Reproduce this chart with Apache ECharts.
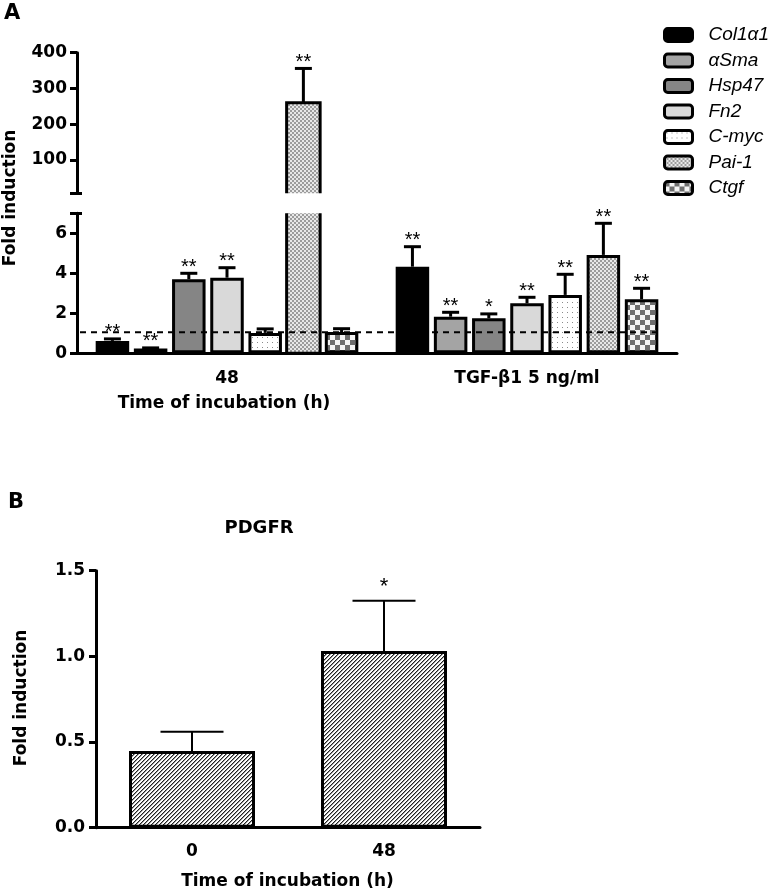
<!DOCTYPE html>
<html>
<head>
<meta charset="utf-8">
<script src="https://cdn.jsdelivr.net/npm/echarts@6/dist/echarts.min.js"></script>
<style>
html,body{margin:0;padding:0;background:#fff;}
#chart{width:776px;height:894px;}
</style>
</head>
<body>
<div id="chart"></div>
<script>
// ---------- DATA ----------
const categoriesA = ['48', 'TGF-\u03b21 5 ng/ml'];
const genes = ['Col1\u03b11', '\u03b1Sma', 'Hsp47', 'Fn2', 'C-myc', 'Pai-1', 'Ctgf'];
const meanAt48 = [0.62, 0.24, 3.70, 3.78, 1.02, 260, 1.06];
const errAt48  = [0.10, 0.03, 0.30, 0.50, 0.20, 96, 0.17];
const starsAt48 = ['**', '**', '**', '**', '', '**', ''];
const meanTgf = [4.33, 1.83, 1.75, 2.50, 2.92, 4.92, 2.70];
const errTgf  = [1.00, 0.22, 0.22, 0.30, 1.03, 1.58, 0.55];
const starsTgf = ['**', '**', '*', '**', '**', '**', '**'];
const refLine = 1.05;
const breakLow = 7;
const yTicksTopA = [100, 200, 300, 400];
const yTicksBottomA = [0, 2, 4, 6];

const categoriesB = ['0', '48'];
const meanB = [0.448, 1.031];
const errB = [0.112, 0.294];
const starsB = ['', '*'];

// ---------- STYLE ----------
const FONT = 'DejaVu Sans';
const BARW = 33.5, GAP = 0.14, SLOT = BARW * (1 + GAP);

function pat(w, h, draw) {
  const c = document.createElement('canvas');
  c.width = w; c.height = h;
  const g = c.getContext('2d');
  draw(g);
  return { image: c, repeat: 'repeat' };
}
const dots = pat(5, 5, g => { g.fillStyle = '#fff'; g.fillRect(0,0,5,5); g.fillStyle = '#8a8a8a'; g.fillRect(2,2,1,1); });
const fineChk = pat(4, 4, g => { g.fillStyle = '#e8e8e8'; g.fillRect(0,0,4,4); g.fillStyle = '#9c9c9c'; g.fillRect(0,0,2,2); g.fillRect(2,2,2,2); });
const bigChk = pat(10, 10, g => { g.fillStyle = '#f4f4f4'; g.fillRect(0,0,10,10); g.fillStyle = '#6e6e6e'; g.fillRect(0,0,5,5); g.fillRect(5,5,5,5); });
const hatch = pat(4, 4, g => {
  g.fillStyle = '#fff'; g.fillRect(0,0,4,4);
  for (let i = 0; i < 4; i++) { g.fillStyle = '#222'; g.fillRect(i, 3 - i, 1, 1); g.fillStyle = '#9a9a9a'; g.fillRect((i + 1) % 4, 3 - i, 1, 1); }
});
const fills = ['#000000', '#a4a4a4', '#858585', '#d9d9d9', dots, fineChk, bigChk];

const axisLine = { show: true, lineStyle: { color: '#000', width: 3 } };
const tickStyle = { color: '#000', width: 3 };
const labelStyle = { color: '#000', fontFamily: FONT, fontWeight: 'bold', fontSize: 17 };

// ---------- SERIES ----------
const series = [];
genes.forEach((g, i) => {
  const vals = [meanAt48[i], meanTgf[i]];
  series.push({
    type: 'bar', name: g, xAxisIndex: 1, yAxisIndex: 1,
    data: vals.map(v => v > breakLow ? { value: v, itemStyle: { borderWidth: 0 } } : v),
    barWidth: BARW, barGap: (GAP * 100) + '%',
    itemStyle: { color: fills[i], borderColor: '#000', borderWidth: 3 },
    emphasis: { disabled: true }, clip: true
  });
  series.push({
    type: 'bar', name: g, xAxisIndex: 0, yAxisIndex: 0,
    data: vals.map(v => v > breakLow ? { value: v, itemStyle: { borderWidth: 0 } } : '-'),
    barWidth: BARW, barGap: (GAP * 100) + '%',
    itemStyle: { color: fills[i], borderColor: '#000', borderWidth: 3 },
    emphasis: { disabled: true }, clip: true
  });
});

function allItems() {
  const items = [];
  [[meanAt48, errAt48, starsAt48], [meanTgf, errTgf, starsTgf]].forEach((arr, cat) => {
    arr[0].forEach((m, s) => items.push({ cat, s, mean: m, err: arr[1][s], star: arr[2][s] }));
  });
  return items;
}
const itemsA = allItems();
const bigItems = itemsA.filter(d => d.mean > breakLow);

function makeErrSeries(items, xi, yi, offsetFn, capHalf, lw, starFont, starGap) {
  return {
    type: 'custom', xAxisIndex: xi, yAxisIndex: yi, z: 5, silent: true,
    data: items.map(d => [d.cat, d.mean, d.err]),
    encode: { x: 0, y: 1 },
    renderItem: function (params, api) {
      const d = items[params.dataIndex];
      const base = api.coord([d.cat, d.mean]);
      const top = api.coord([d.cat, d.mean + d.err]);
      const x = base[0] + offsetFn(d);
      const st = { stroke: '#000', lineWidth: lw };
      const children = [
        { type: 'line', shape: { x1: x, y1: base[1], x2: x, y2: top[1] }, style: st },
        { type: 'line', shape: { x1: x - capHalf, y1: top[1], x2: x + capHalf, y2: top[1] }, style: st }
      ];
      if (d.star) children.push({ type: 'text', style: { text: d.star, x: x, y: top[1] - starGap, align: 'center', verticalAlign: 'middle', font: starFont, fill: '#000' } });
      return { type: 'group', children: children };
    }
  };
}
// open outline for bars cut by the axis break
function makeOutlineSeries(items, xi, yi, upper) {
  return {
    type: 'custom', xAxisIndex: xi, yAxisIndex: yi, z: 4, silent: true,
    data: items.map(d => [d.cat, d.mean]), encode: { x: 0, y: 1 },
    renderItem: function (params, api) {
      const d = items[params.dataIndex];
      const x = api.coord([d.cat, 0])[0] + (d.s - 3) * SLOT;
      const h = BARW / 2;
      let pts;
      if (upper) {
        const yb = api.coord([d.cat, breakLow])[1];
        const yt = api.coord([d.cat, d.mean])[1];
        pts = [[x - h, yb], [x - h, yt], [x + h, yt], [x + h, yb]];
      } else {
        const yb = api.coord([d.cat, 0])[1];
        const yt = api.coord([d.cat, breakLow])[1];
        pts = [[x - h, yt], [x - h, yb], [x + h, yb], [x + h, yt]];
      }
      return { type: 'polyline', shape: { points: pts }, style: { stroke: '#000', lineWidth: 3, fill: null } };
    }
  };
}
const offA = d => (d.s - 3) * SLOT;
series.push(makeOutlineSeries(bigItems, 1, 1, false));
series.push(makeOutlineSeries(bigItems, 0, 0, true));
series.push(makeErrSeries(itemsA.filter(d => d.mean <= breakLow), 1, 1, offA, 8.5, 3, '20px "Liberation Sans"', 6));
series.push(makeErrSeries(bigItems, 0, 0, offA, 8.5, 3, '20px "Liberation Sans"', 6));

// dashed reference line
series.push({
  type: 'custom', xAxisIndex: 1, yAxisIndex: 1, z: 6, silent: true,
  data: [[0, refLine]], encode: { x: 0, y: 1 },
  renderItem: function (params, api) {
    const v = api.value(1);
    const band = api.size([1, 0])[0];
    const p0 = api.coord([0, v]);
    const p1 = api.coord([1, v]);
    return { type: 'line', shape: { x1: p0[0] - band / 2 + 3, y1: p0[1], x2: p1[0] + 3 * SLOT + BARW / 2, y2: p1[1] },
      style: { stroke: '#000', lineWidth: 2, lineDash: [6, 5] } };
  }
});

// panel B
series.push({
  type: 'bar', name: 'PDGFR', xAxisIndex: 2, yAxisIndex: 2, data: meanB, barWidth: 126,
  itemStyle: { color: hatch, borderColor: '#000', borderWidth: 3 }, emphasis: { disabled: true }
});
const itemsB = meanB.map((m, i) => ({ cat: i, s: 0, mean: m, err: errB[i], star: starsB[i] }));
series.push(makeErrSeries(itemsB, 2, 2, d => 0, 31.5, 2, '22px "Liberation Sans"', 14));

// ---------- OPTION ----------
const option = {
  animation: false,
  backgroundColor: '#fff',
  grid: [
    { left: 77, top: 52.7, width: 600, height: 140.6 },
    { left: 77, top: 213.3, width: 600, height: 140 },
    { left: 96, top: 570.7, width: 384, height: 257 }
  ],
  legend: {
    data: genes, orient: 'vertical', left: 663, top: 25.5, padding: 0,
    itemWidth: 28, itemHeight: 13, itemGap: 6.5, icon: 'roundRect',
    itemStyle: { borderColor: '#000', borderWidth: 3 },
    textStyle: { fontFamily: 'Liberation Sans', fontStyle: 'italic', fontSize: 19, lineHeight: 19, color: '#000', padding: [0, 0, 0, 11] },
    selectedMode: false
  },
  xAxis: [
    { type: 'category', gridIndex: 0, data: categoriesA, show: false },
    { type: 'category', gridIndex: 1, data: categoriesA, axisLine: axisLine,
      axisTick: { alignWithLabel: true, length: 7, lineStyle: tickStyle },
      axisLabel: Object.assign({ margin: 17 }, labelStyle) },
    { type: 'category', gridIndex: 2, data: categoriesB, axisLine: axisLine,
      axisTick: { alignWithLabel: true, length: 7, lineStyle: tickStyle },
      axisLabel: Object.assign({ margin: 15 }, labelStyle) }
  ],
  yAxis: [
    { type: 'value', gridIndex: 0, min: breakLow, max: 400, position: 'left', axisLine: axisLine,
      axisTick: { show: true, length: 7, lineStyle: tickStyle, customValues: [breakLow].concat(yTicksTopA) },
      axisLabel: Object.assign({ margin: 10, customValues: yTicksTopA }, labelStyle),
      splitLine: { show: false } },
    { type: 'value', gridIndex: 1, min: 0, max: breakLow, position: 'left', axisLine: axisLine,
      axisTick: { show: true, length: 7, lineStyle: tickStyle, customValues: yTicksBottomA.concat([breakLow]) },
      axisLabel: Object.assign({ margin: 10, customValues: yTicksBottomA }, labelStyle),
      splitLine: { show: false } },
    { type: 'value', gridIndex: 2, min: 0, max: 1.5, interval: 0.5, position: 'left', axisLine: axisLine,
      axisTick: { show: true, length: 7, lineStyle: tickStyle },
      axisLabel: Object.assign({ margin: 11, formatter: v => v.toFixed(1) }, labelStyle),
      splitLine: { show: false } },
    { type: 'value', gridIndex: 0, min: breakLow, max: 400, position: 'left', offset: 0, axisLine: { show: false },
      axisTick: { show: true, inside: true, length: 5, lineStyle: tickStyle, customValues: [breakLow] },
      axisLabel: { show: false }, splitLine: { show: false } },
    { type: 'value', gridIndex: 1, min: 0, max: breakLow, position: 'left', offset: 0, axisLine: { show: false },
      axisTick: { show: true, inside: true, length: 5, lineStyle: tickStyle, customValues: [breakLow] },
      axisLabel: { show: false }, splitLine: { show: false } }
  ],
  graphic: [
    { type: 'text', x: 4, y: 13.5, style: { text: 'A', font: 'bold 21px "DejaVu Sans"', fill: '#000', align: 'left', verticalAlign: 'middle' } },
    { type: 'text', x: 11, y: 198, rotation: Math.PI / 2, style: { text: 'Fold induction', font: 'bold 17px "DejaVu Sans"', fill: '#000', align: 'center', verticalAlign: 'middle' } },
    { type: 'text', x: 224, y: 404, style: { text: 'Time of incubation (h)', font: 'bold 17px "DejaVu Sans"', fill: '#000', align: 'center', verticalAlign: 'middle' } },
    { type: 'text', x: 8, y: 503, style: { text: 'B', font: 'bold 21px "DejaVu Sans"', fill: '#000', align: 'left', verticalAlign: 'middle' } },
    { type: 'text', x: 259, y: 528, style: { text: 'PDGFR', font: 'bold 18px "DejaVu Sans"', fill: '#000', align: 'center', verticalAlign: 'middle' } },
    { type: 'text', x: 22, y: 698, rotation: Math.PI / 2, style: { text: 'Fold induction', font: 'bold 17px "DejaVu Sans"', fill: '#000', align: 'center', verticalAlign: 'middle' } },
    { type: 'text', x: 287.5, y: 882, style: { text: 'Time of incubation (h)', font: 'bold 17px "DejaVu Sans"', fill: '#000', align: 'center', verticalAlign: 'middle' } }
  ],
  series: series
};

const chart = echarts.init(document.getElementById('chart'), null, { renderer: 'canvas' });
chart.setOption(option);
</script>
</body>
</html>
